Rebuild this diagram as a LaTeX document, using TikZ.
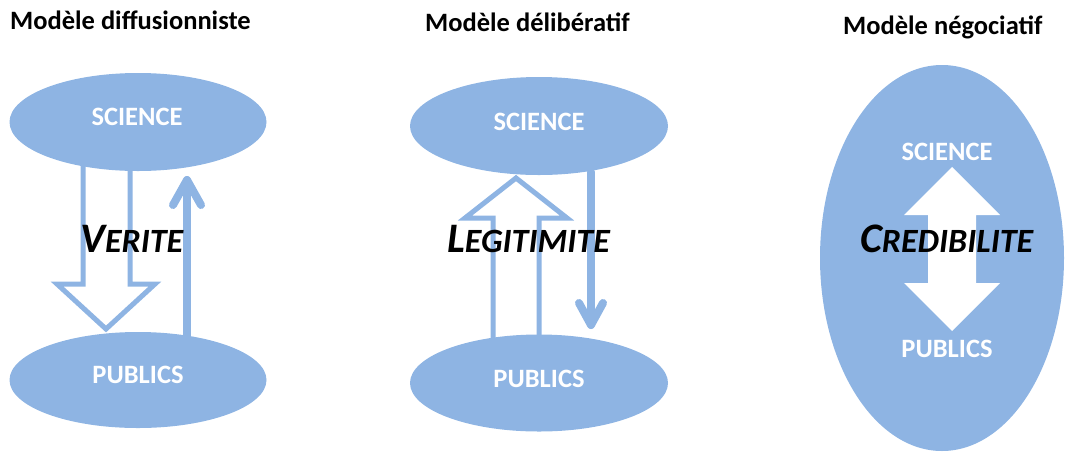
\documentclass[tikz,border=0pt]{standalone}
\usepackage{fontspec}
\setmainfont{Carlito}
\usetikzlibrary{shapes.geometric}
\definecolor{lb}{HTML}{8EB4E3}
\tikzset{
  ell/.style={ellipse, fill=lb, draw=none, inner sep=0pt},
  lbl/.style={anchor=base, text=white, font=\bfseries\fontsize{26.5}{30}\selectfont, inner sep=0pt},
  ttl/.style={anchor=base west, font=\bfseries\fontsize{26.5}{30}\selectfont, inner sep=0pt},
  big/.style={anchor=base west, font=\bfseries\itshape, inner sep=0pt},
  blockarrow/.style={draw=lb, fill=white, line width=5pt, line join=miter},
  thinarrow/.style={draw=lb, line width=8pt, line cap=round, line join=round},
}
\newcommand{\BigLetter}[1]{{\fontsize{42}{48}\selectfont #1}}
\newcommand{\SmallLetters}[1]{{\fontsize{34}{40}\selectfont #1}}
\begin{document}
\begin{tikzpicture}[x=1pt,y=-1pt]
\useasboundingbox (0,0) rectangle (1066,451);

% ---------- Modele diffusionniste ----------
\node[ttl] (t1) at (10,29) {Modèle diffusionniste};
\draw[blockarrow] (83,165) -- (83,284) -- (57,284) -- (106,329) -- (155,284) -- (130,284) -- (130,165);
\coordinate (a1s) at (187,336);
\coordinate (a1e) at (187,180);
\draw[thinarrow] (a1s) -- (a1e);
\draw[thinarrow] (173,205) -- (a1e) -- (201,205);
\node[ell, minimum width=257pt, minimum height=98pt] (sci1) at (138,122) {};
\node[ell, minimum width=257pt, minimum height=96pt] (pub1) at (138,380) {};
\node[lbl] (s1) at (137,125) {SCIENCE};
\node[lbl] (p1) at (138,383) {PUBLICS};
\node[big] (v1) at (80,252) {\BigLetter{V}\SmallLetters{ERITE}};

% ---------- Modele deliberatif ----------
\node[ttl] (t2) at (425,31) {Modèle délibératif};
\node[ell, minimum width=258pt, minimum height=98pt] (sci2) at (539,126) {};
\draw[blockarrow] (493,345) -- (493,218) -- (465,218) -- (516,178) -- (567,218) -- (539,218) -- (539,345);
\node[ell, minimum width=258pt, minimum height=97pt] (pub2) at (539,383) {};
\coordinate (a2s) at (591,172);
\coordinate (a2e) at (591,325);
\draw[thinarrow] (a2s) -- (a2e);
\draw[thinarrow] (579,303) -- (a2e) -- (603,303);
\node[lbl] (s2) at (539,130) {SCIENCE};
\node[lbl] (p2) at (539,387) {PUBLICS};
\node[big] (v2) at (447,252) {\BigLetter{L}\SmallLetters{EGITIMITE}};

% ---------- Modele negociatif ----------
\node[ttl] (t3) at (843,34) {Modèle négociatif};
\node[ell, minimum width=244pt, minimum height=386pt] (big3) at (942,258) {};
\fill[white] (952,167) -- (1000,215) -- (976,215) -- (976,283) -- (1000,283) -- (952,331)
  -- (904,283) -- (928,283) -- (928,215) -- (904,215) -- cycle;
\node[lbl] (s3) at (947,160) {SCIENCE};
\node[lbl] (p3) at (947,357) {PUBLICS};
\node[big] (v3) at (860,252) {\BigLetter{C}\SmallLetters{REDIBILITE}};
\end{tikzpicture}
\end{document}
